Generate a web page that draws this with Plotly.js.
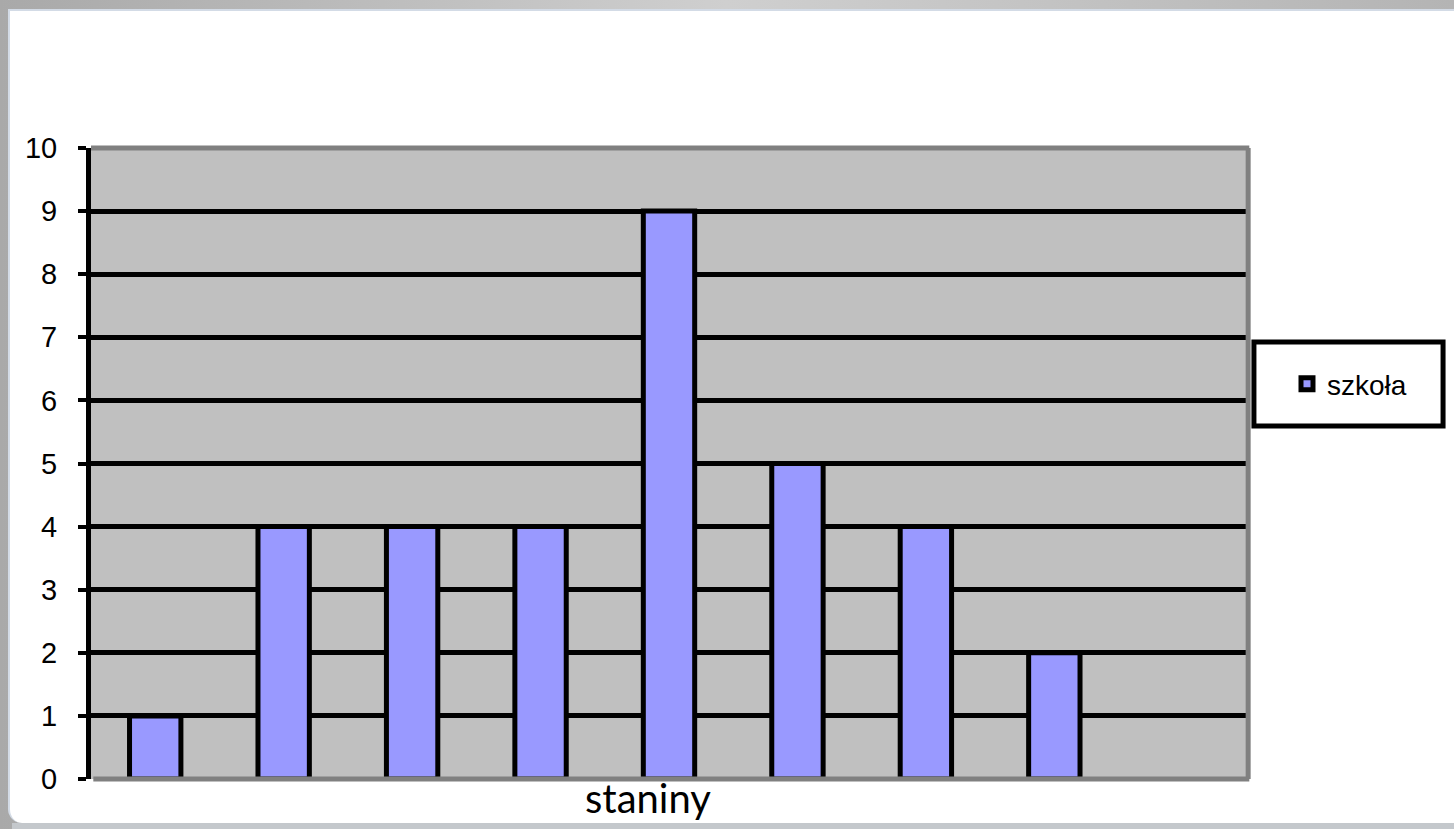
<!DOCTYPE html>
<html>
<head>
<meta charset="utf-8">
<script src="https://cdn.plot.ly/plotly-3.0.1.min.js"></script>
<style>
  html, body { margin:0; padding:0; width:1454px; height:829px; overflow:hidden; }
  body { background: linear-gradient(to right, #a9a9a9, #cfcfcf 50%, #b4b4b4); position:relative; }
  #frame { position:absolute; left:8px; top:9px; width:1446px; height:814px; background:#fff;
           border-left:2px solid #d3dbe6; border-top:2px solid #d3dbe6; border-bottom-left-radius:14px; box-sizing:border-box; }
  #strip { position:absolute; left:12px; top:823px; width:1442px; height:6px; background:#c4c8cc; }
  #chart { position:absolute; left:0; top:0; width:1454px; height:829px; }
</style>
</head>
<body>
<div id="strip"></div>
<div id="frame"></div>
<div id="chart"></div>
<script>
const categories = ['1','2','3','4','5','6','7','8','9'];
const values = [1, 4, 4, 4, 9, 5, 4, 2, null];
const seriesName = 'szkoła';
const yTicks = [0,1,2,3,4,5,6,7,8,9,10];
const xTitle = 'staniny';

const trace = {
  type: 'bar',
  x: categories,
  y: values,
  name: seriesName,
  showlegend: true,
  marker: { color: '#9999ff', line: { color: '#000000', width: 5 } },
  hoverinfo: 'x+y'
};

const layout = {
  width: 1454, height: 829,
  margin: { l: 91, r: 207, t: 148, b: 50, pad: 0 },
  paper_bgcolor: 'rgba(0,0,0,0)',
  plot_bgcolor: '#c0c0c0',
  bargap: 0.6,
  font: { family: 'Liberation Sans, Arial, sans-serif', size: 28, color: '#000' },
  xaxis: {
    type: 'category',
    categoryorder: 'array', categoryarray: categories,
    range: [-0.5, 8.5],
    showticklabels: false, ticks: '', showgrid: false, zeroline: false, showline: false
  },
  yaxis: {
    range: [0, 10],
    tickvals: yTicks,
    ticktext: yTicks.map(String),
    ticks: 'outside', ticklen: 8, tickwidth: 4, tickcolor: '#000',
    ticklabelstandoff: 15,
    showgrid: true, gridcolor: '#000', gridwidth: 5,
    zeroline: false,
    showline: true, linecolor: '#000', linewidth: 5,
    tickfont: { family: 'Liberation Sans, Arial, sans-serif', size: 29, color: '#000' }
  },
  legend: {
    x: 1.0346, xanchor: 'left', y: 0.626, yanchor: 'middle',
    bgcolor: 'rgba(0,0,0,0)', borderwidth: 0,
    font: { family: 'Liberation Sans, Arial, sans-serif', size: 28, color: '#000' },
    itemwidth: 30
  },
  annotations: [
    { text: xTitle, xref: 'paper', yref: 'paper', x: 0.4818, y: -0.03, xanchor: 'center', yanchor: 'middle',
      showarrow: false, font: { family: 'Lato, Carlito, sans-serif', size: 40, color: '#000' } }
  ],
  shapes: [
    { type: 'line', xref: 'paper', yref: 'paper', x0: 0, x1: 1.002, y0: 1, y1: 1, line: { color: '#808080', width: 5 }, layer: 'above' },
    { type: 'line', xref: 'paper', yref: 'paper', x0: 0.002, x1: 1.002, y0: 0, y1: 0, line: { color: '#808080', width: 5 }, layer: 'above' },
    { type: 'line', xref: 'paper', yref: 'paper', x0: 1.001, x1: 1.001, y0: 0, y1: 1, line: { color: '#808080', width: 5 }, layer: 'above' },
    { type: 'rect', xref: 'paper', yref: 'paper', x0: 1.006, x1: 1.1696, y0: 0.5594, y1: 0.6926, line: { color: '#000', width: 5 }, fillcolor: 'rgba(0,0,0,0)', layer: 'above' }
  ]
};

Plotly.newPlot('chart', [trace], layout, { displayModeBar: false, staticPlot: true });
</script>
</body>
</html>
